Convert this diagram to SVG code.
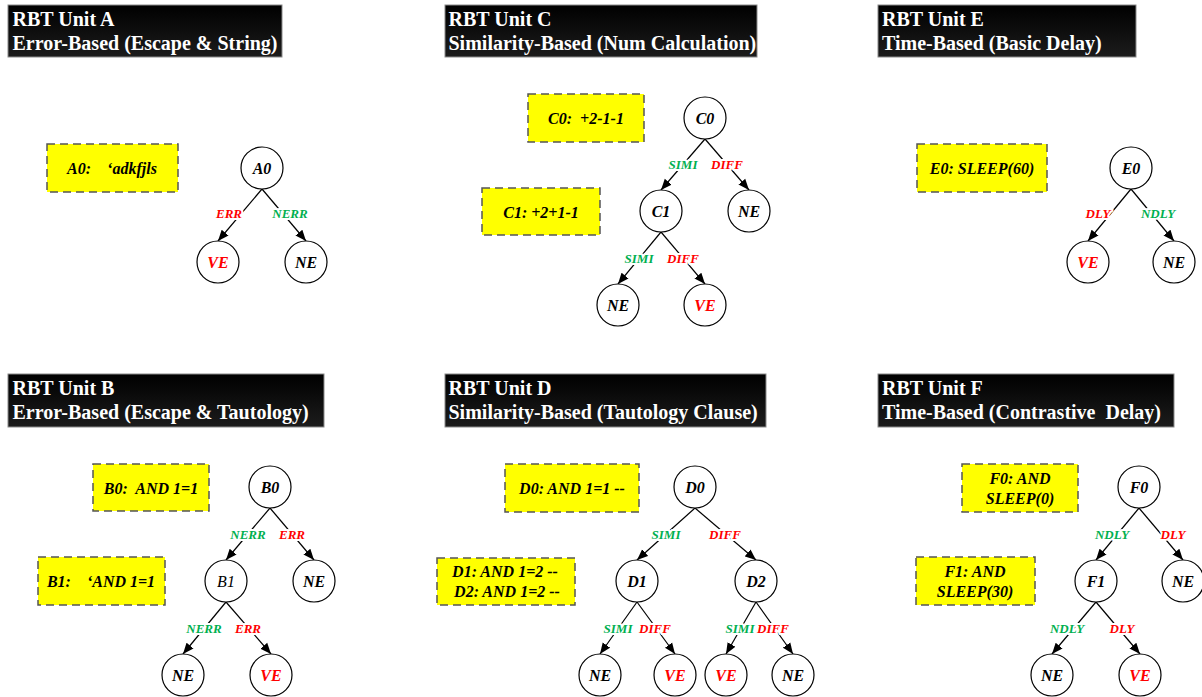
<svg xmlns="http://www.w3.org/2000/svg" width="1202" height="697" viewBox="0 0 1202 697">
<defs>
<linearGradient id="tg" x1="0" y1="0" x2="0" y2="1">
<stop offset="0" stop-color="#000"/>
<stop offset="1" stop-color="#1c1c1c"/>
</linearGradient>
<marker id="arr" markerWidth="12" markerHeight="10" refX="11" refY="5" orient="auto" markerUnits="userSpaceOnUse">
<path d="M0,0.5 L11,5 L0,9.5 z" fill="#000"/>
</marker>
<style>
.title rect{fill:url(#tg);stroke:#8a8a8a;stroke-width:1}
.title text{font-family:"Liberation Serif","Times New Roman",serif;font-weight:bold;font-size:20px;fill:#fff}
.box rect{fill:#ffff00;stroke:#555;stroke-width:1.5;stroke-dasharray:8 5}
.box text{font-family:"Liberation Serif","Times New Roman",serif;font-weight:bold;font-style:italic;font-size:16px;fill:#000;text-anchor:middle}
.node circle{fill:#fff;stroke:#000;stroke-width:1.2}
.node text{font-family:"Liberation Serif","Times New Roman",serif;font-weight:bold;font-style:italic;font-size:16px;fill:#000;text-anchor:middle}
.node text.v{fill:#ff0000}
.node text.l{font-weight:normal}
#connectors line{stroke:#000;stroke-width:1.2;marker-end:url(#arr)}
#connectors text{font-family:"Liberation Serif","Times New Roman",serif;font-weight:bold;font-style:italic;font-size:13px;text-anchor:middle;paint-order:stroke;stroke:#fff;stroke-width:4px;stroke-linejoin:round}
#connectors text.r{fill:#ff0000}
#connectors text.g{fill:#00b050}
</style>
</defs>
<rect width="1202" height="697" fill="#fff"/>

<!-- Titles -->
<g id="title-A" class="title"><rect x="8" y="5" width="274" height="52"/><text x="12.5" y="25.5">RBT Unit A</text><text x="12.5" y="49.5">Error-Based (Escape &amp; String)</text></g>
<g id="title-C" class="title"><rect x="445" y="5" width="312" height="52"/><text x="448.5" y="25.5">RBT Unit C</text><text x="448.5" y="49.5">Similarity-Based (Num Calculation)</text></g>
<g id="title-E" class="title"><rect x="878" y="5" width="258" height="52"/><text x="882" y="25.5">RBT Unit E</text><text x="882" y="49.5">Time-Based (Basic Delay)</text></g>
<g id="title-B" class="title"><rect x="8" y="374" width="316" height="53"/><text x="12.5" y="395">RBT Unit B</text><text x="12.5" y="418.5">Error-Based (Escape &amp; Tautology)</text></g>
<g id="title-D" class="title"><rect x="445" y="374" width="321" height="53"/><text x="448.5" y="395">RBT Unit D</text><text x="448.5" y="418.5">Similarity-Based (Tautology Clause)</text></g>
<g id="title-F" class="title"><rect x="878" y="374" width="296" height="53"/><text x="882" y="395">RBT Unit F</text><text x="882" y="418.5">Time-Based (Contrastive&#160; Delay)</text></g>

<!-- Payload boxes -->
<g id="box-A0" class="box"><rect x="47" y="144" width="131" height="48"/><text x="112" y="173.5">A0:&#160;&#160;&#160;&#160;‘adkfjls</text></g>
<g id="box-C0" class="box"><rect x="528" y="94" width="116" height="48"/><text x="586" y="123.5">C0:&#160; +2-1-1</text></g>
<g id="box-C1" class="box"><rect x="482" y="188" width="118" height="47"/><text x="541" y="217.5">C1: +2+1-1</text></g>
<g id="box-E0" class="box"><rect x="917" y="144" width="130" height="48"/><text x="982" y="173.5">E0: SLEEP(60)</text></g>
<g id="box-B0" class="box"><rect x="93" y="464" width="116" height="47"/><text x="151" y="493.5">B0:&#160; AND 1=1</text></g>
<g id="box-B1" class="box"><rect x="38" y="557" width="127" height="48"/><text x="101" y="586.5">B1:&#160;&#160;&#160;&#160;‘AND 1=1</text></g>
<g id="box-D0" class="box"><rect x="505" y="464" width="134" height="48"/><text x="572" y="493.5">D0: AND 1=1 --</text></g>
<g id="box-D12" class="box"><rect x="437" y="558" width="138" height="47"/><text x="505" y="576.5">D1: AND 1=2 --</text><text x="507" y="596.5">D2: AND 1=2 --</text></g>
<g id="box-F0" class="box"><rect x="962" y="464" width="116" height="48"/><text x="1020" y="483.5">F0: AND</text><text x="1020" y="503.5">SLEEP(0)</text></g>
<g id="box-F1" class="box"><rect x="916" y="557" width="119" height="48"/><text x="975" y="576.5">F1: AND</text><text x="975" y="596.5">SLEEP(30)</text></g>

<!-- Connectors -->
<g id="connectors">
<!-- A -->
<line x1="262" y1="189" x2="218" y2="241"/><line x1="262" y1="189" x2="306" y2="241"/>
<text class="r" x="229" y="217.5">ERR</text><text class="g" x="290" y="217.5">NERR</text>
<!-- C -->
<line x1="705" y1="139" x2="661" y2="190"/><line x1="705" y1="139" x2="749" y2="190"/>
<line x1="661" y1="232" x2="618" y2="284"/><line x1="661" y1="232" x2="705" y2="284"/>
<text class="g" x="683" y="168.5">SIMI</text><text class="r" x="727" y="168.5">DIFF</text>
<text class="g" x="639" y="262.5">SIMI</text><text class="r" x="683" y="262.5">DIFF</text>
<!-- E -->
<line x1="1131" y1="189" x2="1088" y2="241"/><line x1="1131" y1="189" x2="1174" y2="241"/>
<text class="r" x="1098" y="217.5">DLY</text><text class="g" x="1158" y="217.5">NDLY</text>
<!-- B -->
<line x1="270" y1="508" x2="226" y2="560"/><line x1="270" y1="508" x2="314" y2="560"/>
<line x1="226" y1="602" x2="183" y2="654"/><line x1="226" y1="602" x2="271" y2="654"/>
<text class="g" x="248" y="538.5">NERR</text><text class="r" x="292" y="538.5">ERR</text>
<text class="g" x="204" y="632.5">NERR</text><text class="r" x="248" y="632.5">ERR</text>
<!-- D -->
<line x1="695" y1="508" x2="637" y2="560"/><line x1="695" y1="508" x2="756" y2="560"/>
<line x1="637" y1="602" x2="600" y2="654"/><line x1="637" y1="602" x2="675" y2="654"/>
<line x1="756" y1="602" x2="726" y2="654"/><line x1="756" y1="602" x2="793" y2="654"/>
<text class="g" x="666" y="538.5">SIMI</text><text class="r" x="725" y="538.5">DIFF</text>
<text class="g" x="618" y="632.5">SIMI</text><text class="r" x="655" y="632.5">DIFF</text>
<text class="g" x="740" y="632.5">SIMI</text><text class="r" x="773" y="632.5">DIFF</text>
<!-- F -->
<line x1="1139" y1="508" x2="1096" y2="560"/><line x1="1139" y1="508" x2="1183" y2="560"/>
<line x1="1096" y1="602" x2="1052" y2="654"/><line x1="1096" y1="602" x2="1140" y2="654"/>
<text class="g" x="1112" y="538.5">NDLY</text><text class="r" x="1173" y="538.5">DLY</text>
<text class="g" x="1067" y="632.5">NDLY</text><text class="r" x="1122" y="632.5">DLY</text>
</g>

<!-- Nodes A -->
<g id="A0" class="node"><circle cx="262" cy="168" r="21"/><text x="262" y="173.5">A0</text></g>
<g id="A-VE" class="node"><circle cx="218" cy="262" r="21"/><text class="v" x="218" y="267.5">VE</text></g>
<g id="A-NE" class="node"><circle cx="306" cy="262" r="21"/><text x="306" y="267.5">NE</text></g>
<!-- Nodes C -->
<g id="C0" class="node"><circle cx="705" cy="118" r="21"/><text x="705" y="123.5">C0</text></g>
<g id="C1" class="node"><circle cx="661" cy="211" r="21"/><text x="661" y="216.5">C1</text></g>
<g id="C-NE1" class="node"><circle cx="749" cy="211" r="21"/><text x="749" y="216.5">NE</text></g>
<g id="C-NE2" class="node"><circle cx="618" cy="305" r="21"/><text x="618" y="310.5">NE</text></g>
<g id="C-VE" class="node"><circle cx="705" cy="305" r="21"/><text class="v" x="705" y="310.5">VE</text></g>
<!-- Nodes E -->
<g id="E0" class="node"><circle cx="1131" cy="168" r="21"/><text x="1131" y="173.5">E0</text></g>
<g id="E-VE" class="node"><circle cx="1088" cy="262" r="21"/><text class="v" x="1088" y="267.5">VE</text></g>
<g id="E-NE" class="node"><circle cx="1174" cy="262" r="21"/><text x="1174" y="267.5">NE</text></g>
<!-- Nodes B -->
<g id="B0" class="node"><circle cx="270" cy="487" r="21"/><text x="270" y="492.5">B0</text></g>
<g id="B1" class="node"><circle cx="226" cy="581" r="21"/><text class="l" x="226" y="586.5">B1</text></g>
<g id="B-NE1" class="node"><circle cx="314" cy="581" r="21"/><text x="314" y="586.5">NE</text></g>
<g id="B-NE2" class="node"><circle cx="183" cy="675" r="21"/><text x="183" y="680.5">NE</text></g>
<g id="B-VE" class="node"><circle cx="271" cy="675" r="21"/><text class="v" x="271" y="680.5">VE</text></g>
<!-- Nodes D -->
<g id="D0" class="node"><circle cx="695" cy="487" r="21"/><text x="695" y="492.5">D0</text></g>
<g id="D1" class="node"><circle cx="637" cy="581" r="21"/><text x="637" y="586.5">D1</text></g>
<g id="D2" class="node"><circle cx="756" cy="581" r="21"/><text x="756" y="586.5">D2</text></g>
<g id="D-NE1" class="node"><circle cx="600" cy="675" r="21"/><text x="600" y="680.5">NE</text></g>
<g id="D-VE1" class="node"><circle cx="675" cy="675" r="21"/><text class="v" x="675" y="680.5">VE</text></g>
<g id="D-VE2" class="node"><circle cx="726" cy="675" r="21"/><text class="v" x="726" y="680.5">VE</text></g>
<g id="D-NE2" class="node"><circle cx="793" cy="675" r="21"/><text x="793" y="680.5">NE</text></g>
<!-- Nodes F -->
<g id="F0" class="node"><circle cx="1139" cy="487" r="21"/><text x="1139" y="492.5">F0</text></g>
<g id="F1" class="node"><circle cx="1096" cy="581" r="21"/><text x="1096" y="586.5">F1</text></g>
<g id="F-NE1" class="node"><circle cx="1183" cy="581" r="21"/><text x="1183" y="586.5">NE</text></g>
<g id="F-NE2" class="node"><circle cx="1052" cy="675" r="21"/><text x="1052" y="680.5">NE</text></g>
<g id="F-VE" class="node"><circle cx="1140" cy="675" r="21"/><text class="v" x="1140" y="680.5">VE</text></g>
</svg>
